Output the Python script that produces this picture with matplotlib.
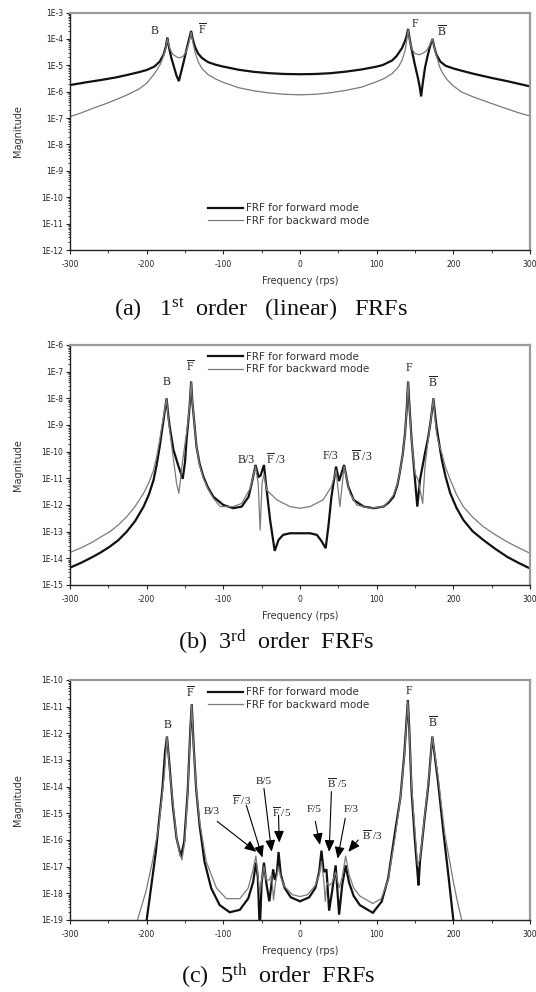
import numpy as np
import matplotlib
matplotlib.use("Agg")
import matplotlib.pyplot as plt
from matplotlib.ticker import FixedLocator, FuncFormatter, LogLocator, NullFormatter, MultipleLocator

plt.rcParams['font.family'] = ['DejaVu Sans']
plt.rcParams['axes.unicode_minus'] = False
plt.rcParams['mathtext.fontset'] = 'custom'
plt.rcParams['mathtext.rm'] = 'Liberation Serif'
plt.rcParams['mathtext.it'] = 'Liberation Serif:italic'
plt.rcParams['mathtext.bf'] = 'Liberation Serif:bold'

# ---------------- data: [frequency (rps), log10(magnitude)] ----------------
a_fwd = np.array([
    [-300, -5.75], [-280, -5.65], [-260, -5.56], [-240, -5.46], [-226, -5.37], [-210, -5.26],
    [-200, -5.18], [-190, -5.05], [-183, -4.86], [-178, -4.60], [-175, -4.30], [-173, -3.95],
    [-171, -4.30], [-168, -4.70], [-164, -5.10], [-161, -5.40], [-158, -5.60], [-155, -5.25],
    [-152, -4.90], [-148, -4.40], [-145, -4.05], [-142, -3.70], [-140, -4.00], [-137, -4.30],
    [-133, -4.55], [-128, -4.72], [-120, -4.88], [-110, -4.98], [-100, -5.05], [-80, -5.17],
    [-60, -5.25], [-40, -5.30], [-20, -5.33], [0, -5.34], [20, -5.33], [40, -5.30], [60, -5.24],
    [80, -5.16], [100, -5.05], [108, -4.99], [120, -4.82], [126, -4.65], [133, -4.35],
    [137, -4.08], [139, -3.90], [141, -3.62], [143, -4.00], [146, -4.45], [150, -5.00],
    [154, -5.50], [156, -5.80], [158, -6.18], [160, -5.70], [163, -5.10], [166, -4.70],
    [169, -4.35], [171, -4.15], [173, -4.00], [175, -4.30], [178, -4.60], [183, -4.86],
    [190, -5.02], [200, -5.12], [210, -5.20], [226, -5.32], [250, -5.48], [270, -5.60],
    [300, -5.80]])
a_bwd = np.array([
    [-300, -6.95], [-285, -6.80], [-270, -6.63], [-250, -6.42], [-226, -6.13], [-210, -5.90],
    [-200, -5.68], [-192, -5.40], [-186, -5.15], [-182, -4.95], [-178, -4.65], [-175, -4.35],
    [-173, -4.00], [-170, -4.35], [-166, -4.58], [-161, -4.68], [-157, -4.72], [-152, -4.65],
    [-148, -4.45], [-145, -4.15], [-142, -3.75], [-140, -4.10], [-137, -4.50], [-133, -4.85],
    [-128, -5.12], [-120, -5.35], [-110, -5.52], [-100, -5.65], [-80, -5.85], [-60, -5.97],
    [-40, -6.05], [-20, -6.10], [0, -6.12], [20, -6.10], [40, -6.04], [60, -5.95], [80, -5.83],
    [100, -5.62], [110, -5.50], [120, -5.32], [128, -5.08], [133, -4.82], [137, -4.45],
    [139, -4.10], [141, -3.65], [143, -4.05], [146, -4.40], [150, -4.55], [155, -4.60],
    [160, -4.55], [165, -4.45], [169, -4.25], [171, -4.10], [173, -4.00], [175, -4.30],
    [178, -4.65], [182, -5.05], [186, -5.30], [192, -5.55], [200, -5.78], [210, -6.00],
    [226, -6.20], [250, -6.45], [270, -6.65], [285, -6.80], [300, -6.92]])

b_fwd = np.array([
    [-300, -14.35], [-285, -14.16], [-270, -13.94], [-260, -13.78], [-248, -13.56], [-237, -13.32],
    [-226, -13.00], [-215, -12.60], [-204, -12.06], [-197, -11.60], [-191, -11.06], [-187, -10.50],
    [-183, -9.81], [-180.5, -9.30], [-178, -8.81], [-176, -8.40], [-174, -8.00], [-172, -8.60],
    [-170, -9.06], [-165, -9.94], [-159, -10.50], [-153, -11.02], [-150, -10.40], [-148, -9.56],
    [-146, -8.95], [-144, -8.31], [-142, -7.37], [-140.5, -8.10], [-139, -8.56], [-135, -9.81],
    [-131, -10.45], [-126, -10.94], [-120, -11.35], [-113, -11.69], [-100, -12.00], [-87, -12.12],
    [-76, -12.06], [-67, -11.69], [-62, -11.06], [-58, -10.50], [-54, -10.94], [-51.5, -10.90],
    [-47, -10.50], [-44, -11.31], [-39, -12.56], [-33, -13.72], [-28, -13.31], [-22, -13.12],
    [-13, -13.06], [0, -13.06], [13, -13.06], [22, -13.12], [28, -13.35], [33.5, -13.62],
    [37, -12.81], [41, -11.69], [47, -10.56], [51, -11.10], [57.5, -10.50], [63, -11.31],
    [70, -11.81], [83, -12.06], [96, -12.12], [109, -12.06], [116, -11.90], [122, -11.69],
    [127, -11.25], [130, -10.81], [134, -10.10], [137, -9.31], [139, -8.50], [141, -7.37],
    [143, -8.40], [145.6, -9.56], [150, -11.06], [153, -12.06], [156.5, -11.06], [163, -10.06],
    [167, -9.50], [170, -8.94], [172, -8.50], [174, -8.00], [176, -8.55], [178, -9.06],
    [181, -9.60], [185, -10.31], [190, -10.95], [196, -11.56], [204, -12.10], [213, -12.56],
    [225, -12.98], [239, -13.31], [255, -13.65], [270, -13.94], [285, -14.17], [300, -14.38]])
b_bwd = np.array([
    [-300, -13.78], [-285, -13.60], [-270, -13.38], [-260, -13.20], [-248, -13.00], [-237, -12.75],
    [-226, -12.44], [-215, -12.05], [-204, -11.56], [-197, -11.15], [-191, -10.69], [-187, -10.20],
    [-183, -9.56], [-180.5, -9.10], [-178, -8.69], [-176, -8.35], [-174, -8.00], [-172, -8.70],
    [-170, -9.19], [-165, -10.31], [-161, -11.19], [-158, -11.56], [-154, -10.56], [-151, -9.90],
    [-148, -9.31], [-146, -8.85], [-144, -8.30], [-142, -7.40], [-140.5, -8.10], [-139, -8.56],
    [-135, -9.81], [-131, -10.50], [-126, -11.00], [-120, -11.40], [-113, -11.75], [-104, -12.06],
    [-87, -12.06], [-76, -11.94], [-65, -11.38], [-58, -10.56], [-54.5, -11.19], [-52, -12.94],
    [-49.5, -11.19], [-47, -10.85], [-43.5, -11.44], [-30, -11.81], [-13, -12.06], [0, -12.12],
    [13, -12.06], [30, -11.81], [41, -11.31], [47, -10.69], [52, -12.06], [57.5, -10.56],
    [65, -11.56], [74, -12.00], [91, -12.12], [109, -12.06], [116, -11.85], [122, -11.62],
    [127, -11.20], [130, -10.81], [134, -10.10], [137, -9.35], [139, -8.55], [141, -7.40],
    [143, -8.45], [145.6, -9.60], [150, -10.81], [154, -11.06], [160, -11.94], [163, -10.56],
    [167, -9.60], [170, -8.94], [172, -8.50], [174, -8.00], [176, -8.70], [178, -9.30],
    [181, -9.70], [185, -10.06], [190, -10.60], [196, -11.06], [204, -11.60], [213, -12.06],
    [225, -12.45], [239, -12.81], [255, -13.12], [270, -13.38], [285, -13.60], [300, -13.81]])

c_fwd = np.array([
    [-201, -19.5], [-200, -19.0], [-195, -17.94], [-188, -16.44], [-184, -15.31], [-179.4, -14.06],
    [-176, -12.69], [-173.5, -12.12], [-170.6, -13.06], [-166, -14.69], [-161, -15.94],
    [-155.3, -16.62], [-151, -16.06], [-146.5, -14.19], [-143, -11.81], [-141.2, -10.91],
    [-139, -12.31], [-135.5, -14.06], [-131, -15.44], [-124.6, -16.81], [-115.8, -17.81],
    [-104.8, -18.44], [-91.7, -18.71], [-78.5, -18.62], [-67.5, -18.19], [-61, -17.56],
    [-57.5, -16.85], [-55, -17.4], [-52.5, -19.4], [-50, -17.6], [-47, -16.85], [-44, -17.6],
    [-40, -18.3], [-37, -17.6], [-35, -17.1], [-32.5, -17.5], [-30, -17.2], [-28, -16.45],
    [-25, -17.3], [-20, -17.8], [-12, -18.15], [0, -18.3], [12, -18.15], [20, -17.8], [25, -17.2],
    [28, -16.4], [31, -17.2], [34.5, -17.1], [38, -18.65], [42, -17.9], [46.5, -16.95], [51, -18.8],
    [55, -17.7], [59.5, -16.95], [64, -17.6], [70, -18.1], [78, -18.44], [95, -18.73],
    [106.5, -18.31], [115, -17.44], [124, -15.69], [131, -14.4], [136, -12.8], [139, -11.5],
    [140.7, -10.75], [142.5, -11.8], [145.6, -14.2], [150, -16.06], [153.5, -17.31],
    [154.5, -17.7], [156.5, -16.8], [163, -15.06], [167.4, -13.94], [170.9, -12.69],
    [172.6, -12.12], [176, -12.9], [180, -13.8], [187, -15.69], [193.5, -17.31], [200, -19.0],
    [201, -19.5]])
c_bwd = np.array([
    [-213, -19.5], [-212, -19.0], [-201, -17.94], [-192.5, -16.81], [-184, -15.44], [-177, -13.56],
    [-173.5, -12.12], [-170, -13.4], [-166, -14.56], [-161, -15.9], [-157.5, -16.44],
    [-154, -16.75], [-150.5, -16.1], [-146.5, -14.3], [-143, -11.9], [-141.2, -10.95],
    [-139, -12.4], [-135.5, -14.0], [-131, -15.3], [-122.4, -16.8], [-109, -17.8], [-96, -18.2],
    [-78.5, -18.2], [-67.5, -17.8], [-62, -17.2], [-57.5, -16.6], [-55, -17.3], [-52.5, -18.0],
    [-50, -17.5], [-47, -17.0], [-44, -17.5], [-40, -17.5], [-37, -17.3], [-34.5, -18.25],
    [-32, -17.6], [-28, -17.0], [-25, -17.4], [-20, -17.75], [-10, -18.05], [0, -18.12],
    [10, -18.05], [20, -17.7], [25, -17.3], [28, -16.8], [31, -17.5], [33, -18.3], [35, -17.6],
    [38, -17.7], [42, -17.6], [46.5, -17.2], [51, -17.8], [55, -17.4], [59.5, -16.6], [64, -17.3],
    [70, -17.8], [78, -18.1], [95, -18.38], [106, -18.2], [115, -17.5], [124, -15.9], [131, -14.4],
    [136, -12.9], [139, -11.6], [140.7, -10.8], [142.5, -11.9], [145.6, -14.0], [150, -15.7],
    [153.5, -16.95], [156.5, -16.7], [163, -15.0], [169.6, -13.2], [172.6, -12.12], [176, -12.8],
    [180, -13.6], [189, -15.8], [200, -17.56], [206, -18.4], [211, -19.0], [212, -19.5]])

x_ticks = [-300, -200, -100, 0, 100, 200, 300]
y_limits = {'a': (-12, -3), 'b': (-15, -6), 'c': (-19, -10)}
legend_labels = ['FRF for forward mode', 'FRF for backward mode']
captions = {
    'a': r'(a)   1$^{\mathrm{st}}$  order   (linear)   FRFs',
    'b': r'(b)  3$^{\mathrm{rd}}$  order  FRFs',
    'c': r'(c)  5$^{\mathrm{th}}$  order  FRFs',
}

# ---------------- figure ----------------
W, H = 536, 992
fig = plt.figure(figsize=(W / 100, H / 100), dpi=100)

def rect(left, top, right, bottom):
    return [left / W, 1 - bottom / H, (right - left) / W, (bottom - top) / H]

FWD_KW = dict(color='#111111', lw=1.6, solid_joinstyle='miter')
BWD_KW = dict(color='#7a7a7a', lw=0.9)
TICK_COLOR = '#222222'

def style_axes(ax, key):
    lo, hi = y_limits[key]
    ax.set_yscale('log')
    ax.set_xlim(-300, 300)
    ax.set_ylim(10.0 ** lo, 10.0 ** hi)
    ax.yaxis.set_major_locator(FixedLocator([10.0 ** e for e in range(lo, hi + 1)]))
    ax.yaxis.set_major_formatter(FuncFormatter(lambda v, p: '1E%d' % int(round(np.log10(v)))))
    ax.yaxis.set_minor_locator(LogLocator(base=10, subs=np.arange(2, 10), numticks=40))
    ax.yaxis.set_minor_formatter(NullFormatter())
    ax.xaxis.set_major_locator(FixedLocator(x_ticks))
    ax.xaxis.set_minor_locator(MultipleLocator(50))
    ax.tick_params(axis='both', which='major', direction='out', length=3, width=0.8,
                   labelsize=5.5, colors=TICK_COLOR, pad=2)
    ax.tick_params(axis='both', which='minor', direction='out', length=1.8, width=0.6,
                   colors=TICK_COLOR)
    ax.tick_params(axis='x', which='major', pad=4)
    for s in ('left', 'bottom'):
        ax.spines[s].set_color('#222222')
        ax.spines[s].set_linewidth(1.0)
    for s in ('top', 'right'):
        ax.spines[s].set_color('#9a9a9a')
        ax.spines[s].set_linewidth(1.6)
    ax.set_xlabel('Frequency (rps)', fontsize=7, color='#333333')
    ax.set_ylabel('Magnitude', fontsize=7, color='#333333')
    ax.xaxis.set_label_coords(0.5, -26 / 240)
    ax.yaxis.set_label_coords(-47 / 460, 0.5)

def draw(ax, fwd, bwd):
    ax.plot(fwd[:, 0], 10.0 ** fwd[:, 1], label=legend_labels[0], **FWD_KW)
    ax.plot(bwd[:, 0], 10.0 ** bwd[:, 1], label=legend_labels[1], **BWD_KW)

def legend(ax, top):
    ax.legend(loc='upper left', bbox_to_anchor=(0.301, top), frameon=False, fontsize=7.5,
              borderpad=0, borderaxespad=0, handlelength=3.3, handletextpad=0.3,
              labelspacing=0.25, labelcolor='#333333')

SERIF = 'Liberation Serif'
def peak(ax, x, y, s, size=8.5):
    ax.text(x, y, s, fontsize=size, family=SERIF, ha='center', va='center', color='#222222')

CAP_SIZE = 17.5

# ---- panel (a)
ax_a = fig.add_axes(rect(70, 12.5, 530, 250))
draw(ax_a, a_fwd, a_bwd)
style_axes(ax_a, 'a')
legend(ax_a, 0.196)
peak(ax_a, -189, 1.95e-4, 'B')
peak(ax_a, -127, 2.2e-4, r'$\overline{\mathrm{F}}$')
peak(ax_a, 150, 3.8e-4, 'F')
peak(ax_a, 185, 1.9e-4, r'$\overline{\mathrm{B}}$')
fig.text(261 / W, 1 - 316.5 / H, captions['a'], fontsize=CAP_SIZE, family=SERIF, ha='center',
         va='baseline', color='#111111')

# ---- panel (b)
ax_b = fig.add_axes(rect(70, 345, 530, 585))
draw(ax_b, b_fwd, b_bwd)
style_axes(ax_b, 'b')
legend(ax_b, 0.972)
peak(ax_b, -174, 4.2e-8, 'B')
peak(ax_b, -143, 1.55e-7, r'$\overline{\mathrm{F}}$')
peak(ax_b, -70, 4.9e-11, 'B/3')
peak(ax_b, -31, 4.9e-11, r'$\overline{\mathrm{F}}$ /3')
peak(ax_b, 40, 7.0e-11, 'F/3')
peak(ax_b, 80, 6.3e-11, r'$\overline{\mathrm{B}}$ /3')
peak(ax_b, 142, 1.35e-7, 'F')
peak(ax_b, 174, 3.9e-8, r'$\overline{\mathrm{B}}$')
fig.text(276 / W, 1 - 649 / H, captions['b'], fontsize=CAP_SIZE, family=SERIF, ha='center',
         va='baseline', color='#111111')

# ---- panel (c)
ax_c = fig.add_axes(rect(70, 680, 530, 920))
draw(ax_c, c_fwd, c_bwd)
style_axes(ax_c, 'c')
legend(ax_c, 0.970)
peak(ax_c, -173, 2.0e-12, 'B')
peak(ax_c, -143, 3.2e-11, r'$\overline{\mathrm{F}}$')
peak(ax_c, 142, 4.0e-11, 'F')
peak(ax_c, 174, 2.5e-12, r'$\overline{\mathrm{B}}$')

arrow_kw = dict(arrowstyle='-|>,head_length=0.7,head_width=0.3', color='black', lw=0.8,
                shrinkA=0, shrinkB=0)
notes = [
    ('B/3', (-115, 1.15e-15), (-108, 5.0e-16), (-57, 3.6e-17)),
    (r'$\overline{\mathrm{F}}$ /3', (-76, 3.2e-15), (-70, 2.0e-15), (-49, 2.2e-17)),
    ('B/5', (-47, 1.6e-14), (-47, 8.5e-15), (-37, 3.6e-17)),
    (r'$\overline{\mathrm{F}}$ /5', (-24, 1.15e-15), (-28, 8.5e-16), (-27, 8.0e-17)),
    ('F/5', (19, 1.4e-15), (20, 5.0e-16), (26, 6.5e-17)),
    (r'$\overline{\mathrm{B}}$ /5', (49, 1.4e-14), (41, 6.5e-15), (38, 3.6e-17)),
    ('F/3', (67, 1.4e-15), (59, 6.5e-16), (49, 2.0e-17)),
    (r'$\overline{\mathrm{B}}$ /3', (94, 1.55e-16), (76, 1.0e-16), (63, 3.6e-17)),
]
for label, tpos, tail, head in notes:
    peak(ax_c, tpos[0], tpos[1], label, size=8)
    ax_c.annotate('', xy=head, xytext=tail, arrowprops=arrow_kw)
fig.text(278 / W, 1 - 983.5 / H, captions['c'], fontsize=CAP_SIZE, family=SERIF, ha='center',
         va='baseline', color='#111111')

fig.savefig('out.png', dpi=100)
